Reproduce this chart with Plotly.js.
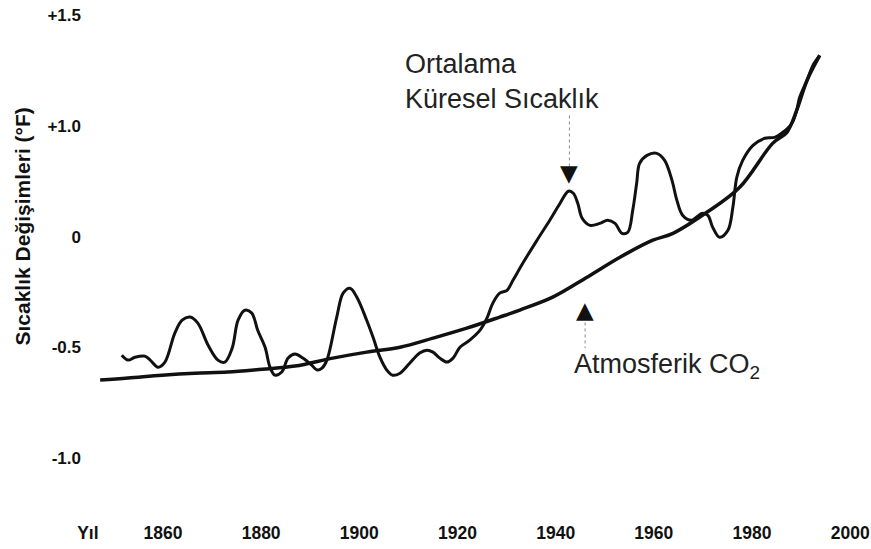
<!DOCTYPE html>
<html>
<head>
<meta charset="utf-8">
<script src="https://cdn.plot.ly/plotly-3.0.1.min.js"></script>
<style>html,body{margin:0;padding:0;background:#fff;}#chart{width:871px;height:549px;}</style>
</head>
<body>
<div id="chart"></div>
<script>
// Ortalama Küresel Sıcaklık (y in axis position units; tick labels map positions to °F labels)
const tempYears = [1851.6,1852.9,1854.3,1856.3,1857.4,1859.0,1860.4,1862.4,1863.9,1865.5,1867.1,1869.2,1871.2,1872.6,1874.1,1875.3,1876.7,1878.1,1879.3,1880.8,1881.8,1882.8,1884.2,1885.5,1886.9,1888.5,1890.3,1891.4,1892.4,1893.4,1895.4,1896.7,1898.1,1899.5,1901.5,1902.8,1904.2,1905.6,1906.8,1908.3,1910.3,1912.3,1913.8,1915.0,1916.4,1917.8,1919.1,1920.5,1922.5,1924.6,1926.0,1927.2,1928.6,1930.1,1931.3,1933.3,1936.2,1938.8,1940.9,1942.6,1943.6,1944.5,1945.4,1947.0,1949.0,1950.6,1952.1,1953.5,1954.7,1955.7,1956.5,1957.1,1958.6,1960.6,1962.2,1963.7,1964.7,1965.9,1967.7,1969.8,1971.0,1972.0,1973.4,1975.1,1976.1,1976.9,1978.1,1980.2,1982.6,1984.6,1986.3,1988.1,1989.1,1989.7,1991.2,1992.4,1993.8];
const tempValues = [-0.535,-0.557,-0.544,-0.539,-0.557,-0.589,-0.566,-0.436,-0.377,-0.363,-0.390,-0.490,-0.557,-0.566,-0.503,-0.377,-0.332,-0.345,-0.422,-0.499,-0.589,-0.625,-0.611,-0.548,-0.530,-0.548,-0.580,-0.602,-0.593,-0.557,-0.363,-0.255,-0.233,-0.273,-0.377,-0.454,-0.544,-0.602,-0.625,-0.616,-0.570,-0.525,-0.512,-0.521,-0.548,-0.566,-0.548,-0.499,-0.467,-0.422,-0.368,-0.300,-0.255,-0.242,-0.197,-0.120,-0.016,0.074,0.151,0.205,0.196,0.151,0.083,0.051,0.060,0.074,0.060,0.015,0.020,0.119,0.241,0.331,0.367,0.376,0.344,0.254,0.164,0.096,0.074,0.105,0.096,0.042,-0.003,0.029,0.133,0.268,0.344,0.412,0.444,0.448,0.471,0.511,0.570,0.628,0.705,0.773,0.818];

// Atmosferik CO2 curve
const co2Years = [1847.2,1852.9,1859.8,1866.5,1873.2,1880.2,1886.9,1894.6,1901.5,1908.3,1915.0,1921.9,1928.6,1932.7,1939.4,1946.4,1953.1,1959.8,1963.9,1970.8,1977.5,1984.2,1987.1,1989.1,1991.2,1993.8];
const co2Values = [-0.647,-0.638,-0.625,-0.616,-0.611,-0.598,-0.584,-0.548,-0.521,-0.499,-0.458,-0.413,-0.363,-0.331,-0.273,-0.183,-0.093,-0.016,0.015,0.110,0.223,0.421,0.471,0.570,0.705,0.818];

// Axis ticks
const xTickVals = [1844.7,1860,1880,1900,1920,1940,1960,1980,2000];
const xTickText = ["Yıl","1860","1880","1900","1920","1940","1960","1980","2000"];
const yTickVals = [1,0.5,0,-0.5,-1];
const yTickText = ["+1.5","+1.0","0","-0.5","-1.0"];

const FONT = "Liberation Sans, Arial, Helvetica, sans-serif";
const INK = "#111";

const traces = [
  {x: tempYears, y: tempValues, mode: "lines", name: "Ortalama Küresel Sıcaklık",
   line: {color: INK, width: 3, shape: "spline", smoothing: 1}},
  {x: co2Years, y: co2Values, mode: "lines", name: "Atmosferik CO2",
   line: {color: INK, width: 3.5, shape: "spline", smoothing: 1}}
];

const layout = {
  width: 871, height: 549,
  margin: {l: 86, r: 11, t: 4, b: 29},
  paper_bgcolor: "#fff", plot_bgcolor: "#fff",
  showlegend: false,
  hovermode: false,
  font: {family: FONT, color: INK},
  xaxis: {
    range: [1844.32, 2002],
    tickmode: "array", tickvals: xTickVals, ticktext: xTickText,
    showgrid: false, zeroline: false, showline: false, ticks: "",
    tickfont: {family: FONT, size: 17.5, weight: "bold", color: INK}
  },
  yaxis: {
    range: [-1.2786, 1.05],
    tickmode: "array", tickvals: yTickVals, ticktext: yTickText,
    showgrid: false, zeroline: false, showline: false, ticks: "",
    ticklabelstandoff: 4,
    tickfont: {family: FONT, size: 17, weight: "bold", color: INK}
  },
  shapes: [
    {type: "line", xref: "x", yref: "y", x0: 1942.8, x1: 1942.8, y0: 0.547, y1: 0.31,
     line: {color: "#888", width: 1, dash: "dot"}},
    {type: "line", xref: "x", yref: "y", x0: 1946.0, x1: 1946.0, y0: -0.36, y1: -0.503,
     line: {color: "#888", width: 1, dash: "dot"}}
  ],
  annotations: [
    {text: "Sıcaklık Değişimleri (°F)", xref: "paper", yref: "paper", x: 0, y: 0.5678,
     xshift: -63.5, xanchor: "center", yanchor: "middle", textangle: -90, showarrow: false,
     font: {family: FONT, size: 21, weight: "bold", color: INK}},
    {text: "Ortalama<br>Küresel Sıcaklık", xref: "x", yref: "y", x: 1908.9, y: 0.70,
     xanchor: "left", yanchor: "middle", align: "left", showarrow: false,
     font: {family: FONT, size: 27, color: "#222"}},
    {text: "Atmosferik CO<sub>2</sub>", xref: "x", yref: "y", x: 1943.3, y: -0.584,
     xanchor: "left", yanchor: "middle", align: "left", showarrow: false,
     font: {family: FONT, size: 27, color: "#222"}},
    {text: "▼", xref: "x", yref: "y", x: 1942.8, y: 0.286,
     xanchor: "center", yanchor: "middle", showarrow: false,
     font: {family: "DejaVu Sans", size: 23, color: INK}},
    {text: "▲", xref: "x", yref: "y", x: 1946.0, y: -0.332,
     xanchor: "center", yanchor: "middle", showarrow: false,
     font: {family: "DejaVu Sans", size: 23, color: INK}}
  ]
};

Plotly.newPlot("chart", traces, layout, {displayModeBar: false, staticPlot: true});
</script>
</body>
</html>
